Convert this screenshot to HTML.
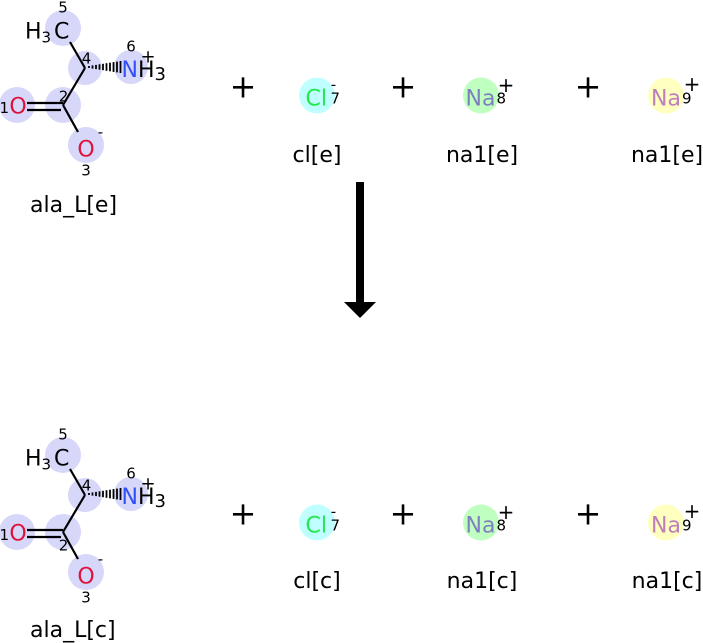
<!DOCTYPE html>
<html><head><meta charset="utf-8"><style>
html,body{margin:0;padding:0;background:#fff;}
svg{display:block;}
text{font-family:"DejaVu Sans","Liberation Sans",sans-serif;}
</style></head><body>
<svg width="703" height="643" viewBox="0 0 703 643" xmlns="http://www.w3.org/2000/svg">
<rect width="703" height="643" fill="#fff"/>

<!-- Top molecule -->
<g id="mol">
<circle cx="63" cy="28" r="18" fill="#d7d7fa"/>
<circle cx="85" cy="68" r="17" fill="#d7d7fa"/>
<circle cx="131" cy="67" r="17" fill="#d7d7fa"/>
<circle cx="63" cy="105" r="18" fill="#d7d7fa"/>
<circle cx="17" cy="105" r="18" fill="#d7d7fa"/>
<circle cx="86" cy="145" r="18" fill="#d7d7fa"/>
<g stroke="#000" stroke-width="2.2" fill="none">
<line x1="70" y1="42" x2="85" y2="68"/>
<line x1="85" y1="68" x2="63" y2="105"/>
<line x1="63" y1="105" x2="78" y2="132"/>
<line x1="27" y1="103" x2="63" y2="103"/>
<line x1="27" y1="110" x2="61" y2="110"/>
</g>
<g stroke="#000" stroke-width="1.8">
<line x1="89" y1="66" x2="89" y2="68"/>
<line x1="92.5" y1="65.4" x2="92.5" y2="68.6"/>
<line x1="96" y1="64.9" x2="96" y2="69.1"/>
<line x1="99.5" y1="64.3" x2="99.5" y2="69.7"/>
<line x1="103" y1="63.8" x2="103" y2="70.2"/>
<line x1="106.5" y1="63.2" x2="106.5" y2="70.8"/>
<line x1="110" y1="62.7" x2="110" y2="71.3"/>
<line x1="113.5" y1="62.1" x2="113.5" y2="71.9"/>
<line x1="117" y1="61.6" x2="117" y2="72.4"/>
<line x1="120.5" y1="61" x2="120.5" y2="73"/>
</g>
<text x="25" y="38.5" font-size="22" fill="#000">H</text>
<text x="41.5" y="42.5" font-size="15" fill="#000">3</text>
<text x="54" y="38.5" font-size="22" fill="#000">C</text>
<text x="63" y="12.5" font-size="15" text-anchor="middle" fill="#000">5</text>
<text x="86.5" y="63.5" font-size="15" text-anchor="middle" fill="#000">4</text>
<text x="121.5" y="77" font-size="22" fill="#3050f8">N</text>
<text x="138" y="77" font-size="22" fill="#000">H</text>
<text x="154.5" y="80" font-size="18" fill="#000">3</text>
<text x="148" y="62.5" font-size="18" text-anchor="middle" fill="#000">+</text>
<text x="131" y="51.5" font-size="15" text-anchor="middle" fill="#000">6</text>
<text x="-0.5" y="113" font-size="15" fill="#000">1</text>
<text x="18" y="113.5" font-size="22" text-anchor="middle" fill="#dc143c">O</text>
<text x="86" y="156.5" font-size="22" text-anchor="middle" fill="#dc143c">O</text>
<text x="100.5" y="137" font-size="15" text-anchor="middle" fill="#000">-</text>
<text x="86" y="175.5" font-size="15" text-anchor="middle" fill="#000">3</text>
</g>
<text x="63.5" y="101.5" font-size="15" text-anchor="middle" fill="#000">2</text>
<text x="30" y="212" font-size="22" fill="#000">ala_L[e]</text>

<!-- Bottom molecule -->
<use href="#mol" transform="translate(0,427)"/>
<text x="63.5" y="550.5" font-size="15" text-anchor="middle" fill="#000">2</text>
<text x="30" y="637" font-size="22" fill="#000">ala_L[c]</text>

<!-- Top ions -->
<g id="ions">
<text x="243" y="97.5" font-size="32" text-anchor="middle" fill="#000">+</text>
<text x="403" y="97.5" font-size="32" text-anchor="middle" fill="#000">+</text>
<text x="588" y="97.5" font-size="32" text-anchor="middle" fill="#000">+</text>
<circle cx="317" cy="95.5" r="18" fill="#c0ffff"/>
<text x="305.5" y="105.5" font-size="22" fill="#22e84a">Cl</text>
<text x="333.5" y="89.5" font-size="15" text-anchor="middle" fill="#000">-</text>
<text x="330.5" y="103.5" font-size="15" fill="#000">7</text>
<circle cx="481" cy="95.5" r="18" fill="#bfffbf"/>
<text x="465.5" y="105.5" font-size="22" fill="#7f7fbf">Na</text>
<text x="496.5" y="103.5" font-size="15" fill="#000">8</text>
<text x="506" y="92" font-size="20" text-anchor="middle" fill="#000">+</text>
<circle cx="666" cy="95.5" r="18" fill="#ffffbf"/>
<text x="651" y="105.5" font-size="22" fill="#bf7fbf">Na</text>
<text x="682" y="103.5" font-size="15" fill="#000">9</text>
<text x="692" y="91" font-size="20" text-anchor="middle" fill="#000">+</text>
</g>
<text x="317" y="162" font-size="22" text-anchor="middle" fill="#000">cl[e]</text>
<text x="482" y="162" font-size="22" text-anchor="middle" fill="#000">na1[e]</text>
<text x="667" y="162" font-size="22" text-anchor="middle" fill="#000">na1[e]</text>

<!-- Bottom ions -->
<use href="#ions" transform="translate(0,427)"/>
<text x="317" y="588" font-size="22" text-anchor="middle" fill="#000">cl[c]</text>
<text x="482" y="588" font-size="22" text-anchor="middle" fill="#000">na1[c]</text>
<text x="667" y="588" font-size="22" text-anchor="middle" fill="#000">na1[c]</text>

<!-- Arrow -->
<rect x="356" y="182" width="8" height="121" fill="#000"/>
<polygon points="344,302 376,302 360,318" fill="#000"/>
</svg>
</body></html>
